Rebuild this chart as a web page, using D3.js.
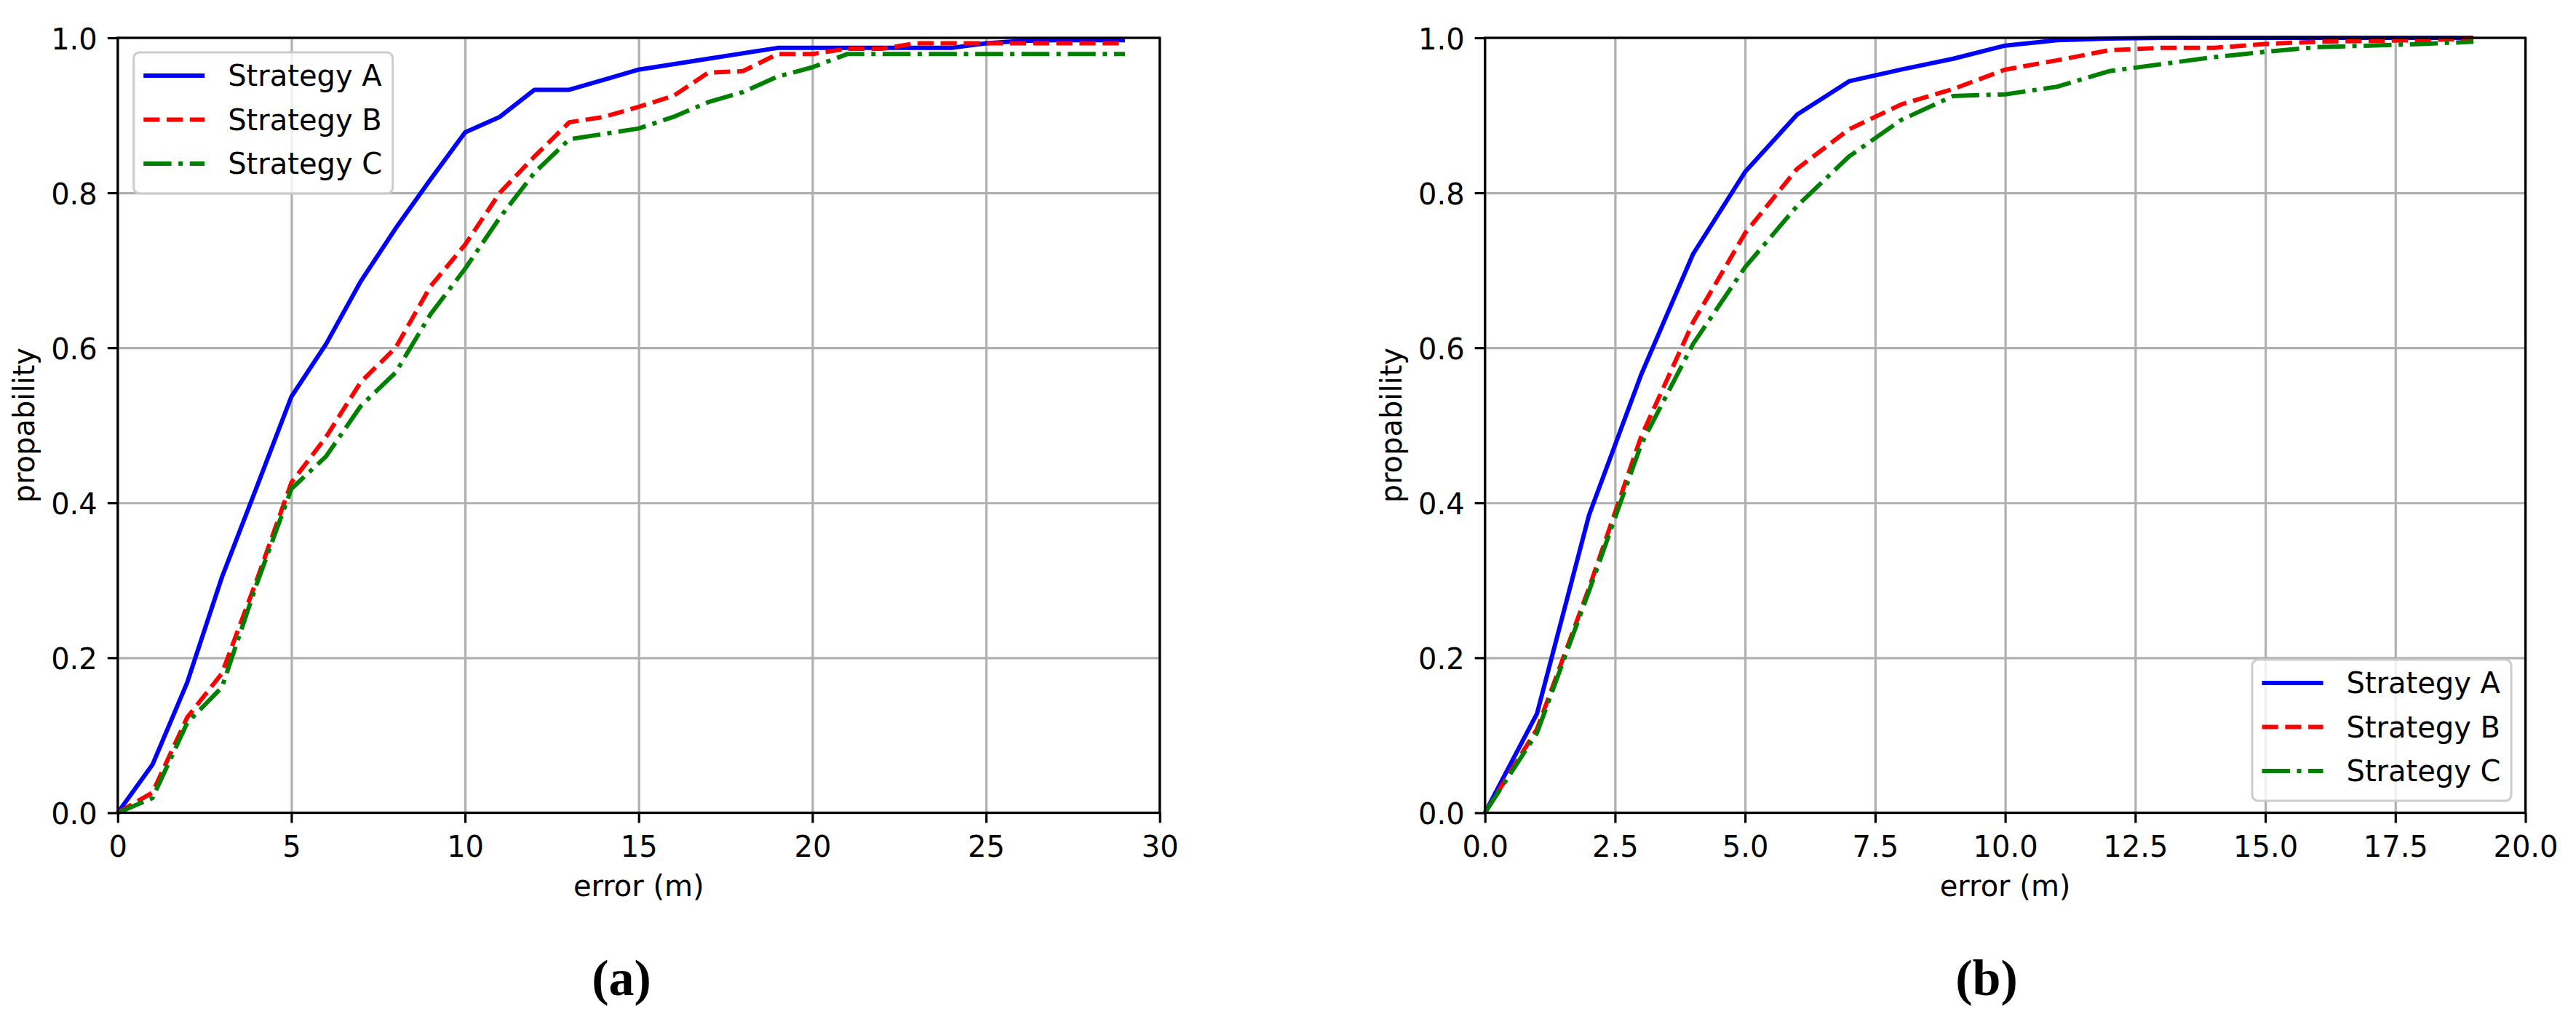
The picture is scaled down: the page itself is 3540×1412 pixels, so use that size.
<!DOCTYPE html>
<html>
<head>
<meta charset="utf-8">
<script src="https://cdn.jsdelivr.net/npm/d3@7"></script>
<style>
  body { margin: 0; background: #fff; }
  svg { display: block; }
</style>
</head>
<body>
<div id="chart"></div>
<script>
const width = 3540;
const height = 1412;
const fontFamily = "'DejaVu Sans', sans-serif";
const fontSize = 40;
const lw = 6;

const seriesNames = ["Strategy A", "Strategy B", "Strategy C"];
const seriesColors = ["#0000ff", "#ff0000", "#008000"];
const seriesDashes = [null, "22.2,9.6", "38.4,9.6,6,9.6"];

const yTicks = [0, 0.2, 0.4, 0.6, 0.8, 1.0];

// panel (a)
const errorA = [0, 1, 2, 3, 4, 5, 6, 7, 8, 9, 10, 11, 12, 13, 14, 15, 16, 17, 18, 19, 20, 21, 22, 23, 24, 25, 26, 27, 28, 29];
const probA1 = [0, 0.062, 0.168, 0.304, 0.42, 0.537, 0.605, 0.686, 0.754, 0.817, 0.878, 0.898, 0.933, 0.933, 0.946, 0.959, 0.966, 0.973, 0.980, 0.987, 0.987, 0.987, 0.987, 0.987, 0.987, 0.993, 0.996, 0.997, 0.997, 0.997];
const probA2 = [0, 0.026, 0.123, 0.18, 0.30, 0.426, 0.485, 0.556, 0.60, 0.679, 0.733, 0.80, 0.847, 0.891, 0.898, 0.911, 0.925, 0.955, 0.957, 0.979, 0.979, 0.986, 0.986, 0.993, 0.993, 0.993, 0.993, 0.993, 0.993, 0.993];
const probA3 = [0, 0.019, 0.116, 0.162, 0.295, 0.418, 0.46, 0.525, 0.568, 0.643, 0.702, 0.768, 0.826, 0.869, 0.876, 0.883, 0.898, 0.917, 0.930, 0.950, 0.962, 0.979, 0.979, 0.979, 0.979, 0.979, 0.979, 0.979, 0.979, 0.979];
const xTicksA = [0, 5, 10, 15, 20, 25, 30];

// panel (b)
const errorB = [0, 1, 2, 3, 4, 5, 6, 7, 8, 9, 10, 11, 12, 13, 14, 15, 16, 17, 18, 19];
const probB1 = [0, 0.128, 0.384, 0.565, 0.721, 0.827, 0.901, 0.944, 0.959, 0.973, 0.990, 0.997, 0.999, 1.0, 1.0, 1.0, 1.0, 1.0, 1.0, 1.0];
const probB2 = [0, 0.108, 0.29, 0.485, 0.633, 0.748, 0.831, 0.882, 0.914, 0.934, 0.959, 0.971, 0.984, 0.987, 0.987, 0.992, 0.995, 0.996, 0.997, 0.999];
const probB3 = [0, 0.103, 0.286, 0.475, 0.605, 0.704, 0.783, 0.847, 0.894, 0.925, 0.927, 0.937, 0.957, 0.966, 0.975, 0.982, 0.988, 0.990, 0.992, 0.995];
const xTicksB = [0, 2.5, 5, 7.5, 10, 12.5, 15, 17.5, 20];

const panels = [
    { left: 161.8, right: 1593.7, xMax: 30, xTicks: xTicksA, fmt: d3.format("d"),
      errors: errorA, probs: [probA1, probA2, probA3], legend: [183.7, 72], caption: "(a)", captionX: 854 },
    { left: 2040.7, right: 3470.5, xMax: 20, xTicks: xTicksB, fmt: d3.format(".1f"),
      errors: errorB, probs: [probB1, probB2, probB3], legend: [3095, 907], caption: "(b)", captionX: 2730 }
];

const plotTop = 52;
const plotBottom = 1117.4;

const svg = d3.select("#chart").append("svg")
    .attr("width", width)
    .attr("height", height)
    .style("background", "#fff");

const yScale = d3.scaleLinear().domain([0, 1]).range([plotBottom, plotTop]);

function drawPanel(p) {
    const xScale = d3.scaleLinear().domain([0, p.xMax]).range([p.left, p.right]);
    const g = svg.append("g");

    // grid
    g.append("g")
        .attr("transform", `translate(0, ${plotBottom})`)
        .call(d3.axisBottom(xScale).tickValues(p.xTicks).tickSize(-(plotBottom - plotTop)).tickFormat(""))
        .call(s => s.select(".domain").remove())
        .selectAll("line").attr("stroke", "#b0b0b0").attr("stroke-width", 3.2);
    g.append("g")
        .attr("transform", `translate(${p.left}, 0)`)
        .call(d3.axisLeft(yScale).tickValues(yTicks).tickSize(-(p.right - p.left)).tickFormat(""))
        .call(s => s.select(".domain").remove())
        .selectAll("line").attr("stroke", "#b0b0b0").attr("stroke-width", 3.2);

    // series
    p.probs.forEach((vals, i) => {
        const pts = p.errors.map((e, j) => [e, vals[j]]);
        g.append("path")
            .datum(pts)
            .attr("fill", "none")
            .attr("stroke", seriesColors[i])
            .attr("stroke-width", lw)
            .attr("stroke-dasharray", seriesDashes[i])
            .attr("stroke-linejoin", "round")
            .attr("d", d3.line().x(d => xScale(d[0])).y(d => yScale(d[1])));
    });

    // axes
    const xAxis = g.append("g")
        .attr("transform", `translate(0, ${plotBottom})`)
        .call(d3.axisBottom(xScale).tickValues(p.xTicks).tickSize(14).tickPadding(18).tickFormat(p.fmt));
    const yAxis = g.append("g")
        .attr("transform", `translate(${p.left}, 0)`)
        .call(d3.axisLeft(yScale).tickValues(yTicks).tickSize(14).tickPadding(14).tickFormat(d3.format(".1f")));
    [xAxis, yAxis].forEach(ax => {
        ax.select(".domain").remove();
        ax.selectAll("line").attr("stroke", "#000").attr("stroke-width", 3.2);
        ax.selectAll("text")
            .attr("fill", "#000")
            .style("font-family", fontFamily)
            .style("font-size", fontSize + "px");
    });
    yAxis.selectAll("text").attr("dy", "0.38em");

    g.append("rect")
        .attr("x", p.left)
        .attr("y", plotTop)
        .attr("width", p.right - p.left)
        .attr("height", plotBottom - plotTop)
        .attr("fill", "none")
        .attr("stroke", "#000")
        .attr("stroke-width", 3.2);

    // labels
    g.append("text")
        .attr("x", (p.left + p.right) / 2)
        .attr("y", 1232)
        .attr("text-anchor", "middle")
        .style("font-family", fontFamily)
        .style("font-size", fontSize + "px")
        .text("error (m)");

    g.append("text")
        .attr("transform", `translate(${p.left - 115}, ${(plotTop + plotBottom) / 2}) rotate(-90)`)
        .attr("text-anchor", "middle")
        .style("font-family", fontFamily)
        .style("font-size", fontSize + "px")
        .text("propability");

    g.append("text")
        .attr("x", p.captionX)
        .attr("y", 1368)
        .attr("text-anchor", "middle")
        .style("font-family", "'Liberation Serif', serif")
        .style("font-weight", "bold")
        .style("font-size", "70px")
        .text(p.caption);

    // legend
    const [lx, ly] = p.legend;
    const leg = g.append("g").attr("transform", `translate(${lx}, ${ly})`);
    leg.append("rect")
        .attr("width", 356)
        .attr("height", 194)
        .attr("rx", 8)
        .attr("fill", "#fff")
        .attr("fill-opacity", 0.8)
        .attr("stroke", "#cccccc")
        .attr("stroke-width", 3);
    const rowY = [32, 92.5, 153];
    seriesNames.forEach((name, i) => {
        leg.append("line")
            .attr("x1", 13.5).attr("x2", 97.5)
            .attr("y1", rowY[i]).attr("y2", rowY[i])
            .attr("stroke", seriesColors[i])
            .attr("stroke-width", lw)
            .attr("stroke-dasharray", seriesDashes[i]);
        leg.append("text")
            .attr("x", 129.5)
            .attr("y", rowY[i])
            .attr("dy", "0.36em")
            .style("font-family", fontFamily)
            .style("font-size", fontSize + "px")
            .text(name);
    });
}

panels.forEach(drawPanel);
</script>
</body>
</html>
